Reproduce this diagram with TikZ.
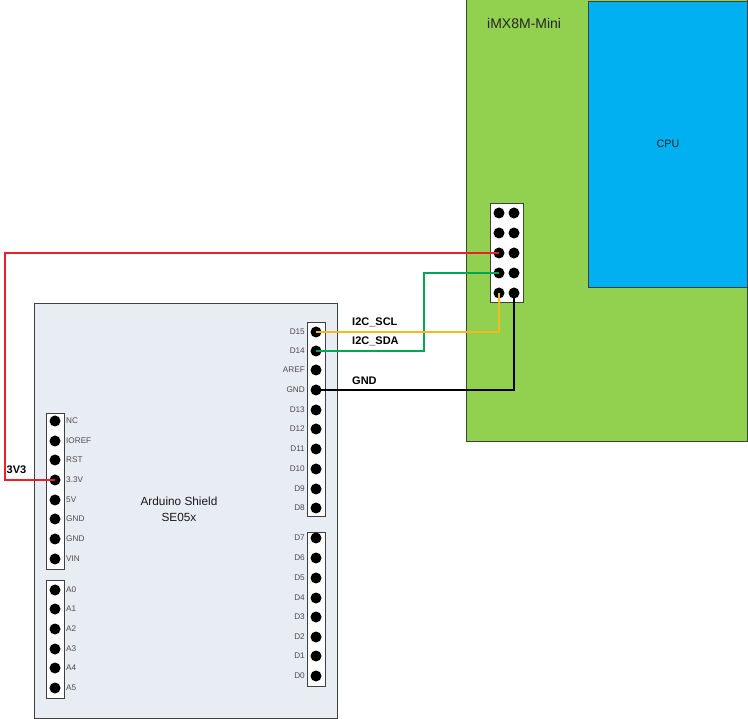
\documentclass[tikz,border=0pt]{standalone}
\usepackage{fontspec}
\setmainfont{Liberation Sans}
\definecolor{boardgreen}{HTML}{92D050}
\definecolor{cpublue}{HTML}{00B0F0}
\definecolor{shieldfill}{HTML}{E8EDF4}
\definecolor{edgegray}{HTML}{404040}
\definecolor{wirered}{HTML}{E8212B}
\definecolor{wiregreen}{HTML}{00A651}
\definecolor{wireyellow}{HTML}{F5B81F}
\tikzset{
  pin/.style={circle,fill=black,inner sep=0pt,minimum size=11pt},
  header/.style={draw=edgegray,fill=white,line width=0.9pt},
  pinlabel/.style={font=\fontsize{8.2}{10}\selectfont,text=black!70,inner sep=0pt},
  wirelabel/.style={font=\bfseries\fontsize{11}{13}\selectfont,inner sep=0pt,anchor=west},
  wire/.style={line width=2.2pt}
}
\begin{document}
\begin{tikzpicture}[x=1pt,y=-1pt]
\useasboundingbox (0,0) rectangle (748,719);
% boards
\node[draw=edgegray,fill=boardgreen,line width=0.8pt,minimum width=281pt,minimum height=442pt,inner sep=0pt,anchor=north west] (imx) at (466,-1) {};
\node[draw=edgegray,fill=cpublue,line width=0.8pt,minimum width=159pt,minimum height=286pt,inner sep=0pt,anchor=north west] (cpu) at (588,1) {};
\node[draw=edgegray,fill=shieldfill,line width=0.8pt,minimum width=303pt,minimum height=415pt,inner sep=0pt,anchor=north west] (shield) at (34,303) {};
\node[font=\fontsize{14}{16}\selectfont,anchor=west,inner sep=0pt,text=black!85] (imxt) at (487,23) {iMX8M-Mini};
\node[font=\fontsize{10.8}{13}\selectfont,inner sep=0pt,text=black!85] (cput) at (668,143.5) {CPU};
\node[font=\fontsize{11.8}{16}\selectfont,align=center,inner sep=0pt,text=black!90] (shieldt) at (179,509) {Arduino Shield\\SE05x};
% headers
\node[header,minimum width=33pt,minimum height=99pt,inner sep=0pt,anchor=north west] (hj) at (490,203) {};
\node[header,minimum width=18pt,minimum height=156pt,inner sep=0pt,anchor=north west] (hp) at (46,413) {};
\node[header,minimum width=18pt,minimum height=118pt,inner sep=0pt,anchor=north west] (ha) at (46,580) {};
\node[header,minimum width=18pt,minimum height=194pt,inner sep=0pt,anchor=north west] (hh) at (307,322) {};
\node[header,minimum width=18pt,minimum height=154pt,inner sep=0pt,anchor=north west] (hl) at (307,532) {};
% iMX header pins
\foreach \n/\y in {a/213,b/233,c/253,d/273,e/293}{
  \node[pin] (j1\n) at (499,\y) {};
  \node[pin] (j2\n) at (514,\y) {};
}
% power header
\foreach \n/\t/\y in {nc/NC/421,ioref/IOREF/441,rst/RST/460,v33/3.3V/480,v5/5V/500,gnda/GND/519,gndb/GND/539,vin/VIN/559,
  az/A0/590,ay/A1/609,ax/A2/629,aw/A3/649,av/A4/668,au/A5/688}{
  \node[pin] (\n) at (55,\y) {};
  \node[pinlabel,anchor=west] (l\n) at (66,\y) {\t};
}
% digital headers
\foreach \n/\t/\y in {dfifteen/D15/332,dfourteen/D14/351,aref/AREF/370,dgnd/GND/390,dthirteen/D13/410,dtwelve/D12/429,deleven/D11/449,dten/D10/469,dnine/D9/489,deight/D8/508,
  dseven/D7/538,dsix/D6/558,dfive/D5/578,dfour/D4/598,dthree/D3/617,dtwo/D2/637,done/D1/656,dzero/D0/676}{
  \node[pin] (\n) at (316,\y) {};
  \node[pinlabel,anchor=east] (l\n) at (305,\y) {\t};
}
% wires
\coordinate (rtop) at (5,253);
\coordinate (rbot) at (5,480);
\draw[wire,wirered] (j1c.center) -- (rtop) -- (rbot) -- (v33.center);
\coordinate (gtop) at (424,273);
\coordinate (gbot) at (424,351);
\draw[wire,wiregreen] (j1d.center) -- (gtop) -- (gbot) -- (dfourteen.center);
\coordinate (ybot) at (499,332);
\draw[wire,wireyellow] (j1e.center) -- (ybot) -- (dfifteen.center);
\coordinate (kbot) at (514,390);
\draw[wire,black] (j2e.center) -- (kbot) -- (dgnd.center);
% wire labels
\node[wirelabel] (t1) at (352,322) {I2C\_SCL};
\node[wirelabel] (t2) at (352,341) {I2C\_SDA};
\node[wirelabel] (t3) at (352,380.5) {GND};
\node[wirelabel] (t4) at (6.5,470) {3V3};
\end{tikzpicture}
\end{document}
